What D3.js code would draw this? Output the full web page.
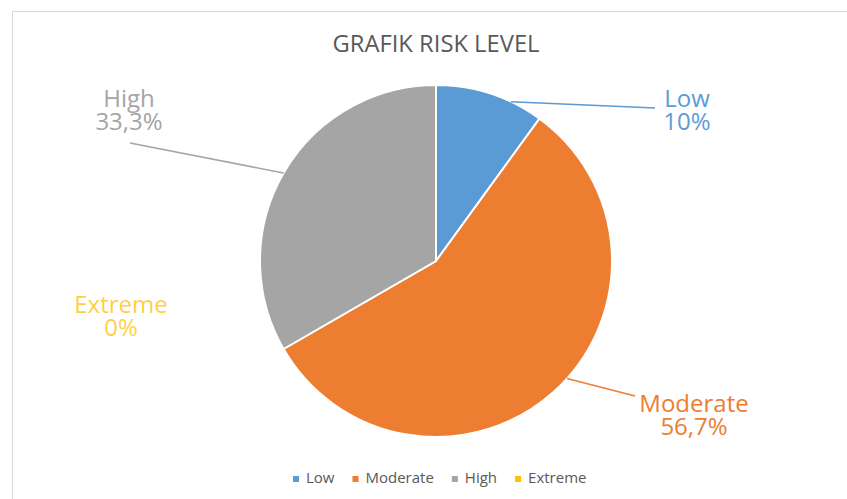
<!DOCTYPE html>
<html>
<head>
<meta charset="utf-8">
<script src="https://cdn.jsdelivr.net/npm/d3@7/dist/d3.min.js"></script>
<style>
	body { margin: 0; background: #fff; }
	text { font-family: "Open Sans", sans-serif; }
</style>
</head>
<body>
<div id="chart"></div>
<script>
var title = "GRAFIK RISK LEVEL";
var categories = ["Low", "Moderate", "High", "Extreme"];
var counts = [3, 17, 10, 0];
var colors = ["#5B9BD5", "#ED7D31", "#A5A5A5", "#FFC000"];

var width = 847, height = 499;
var cx = 436, cy = 261, radius = 176;

// best-fit label spots (relative to pie centre), like Excel placed them
var labelSpot = {
	"Low":      {x: 251,  y: -154, lineX: 219,  lineY: -153, at: 0.7},
	"Moderate": {x: 258,  y: 151,  lineX: 199,  lineY: 135,  at: 0.47},
	"High":     {x: -307, y: -154, lineX: -306, lineY: -118, at: 0.5},
	"Extreme":  {x: -315, y: 52}
};

var total = d3.sum(counts);
function pct(v) {
	var p = Math.round(v / total * 1000) / 10;
	return String(p).replace(".", ",") + "%";
}

var svg = d3.select("#chart").append("svg")
	.attr("width", width)
	.attr("height", height);

svg.append("rect")
	.attr("width", width).attr("height", height)
	.attr("fill", "#fff");

// chart area frame
svg.append("rect")
	.attr("x", 12.5).attr("y", 11.5)
	.attr("width", 900).attr("height", 600)
	.attr("fill", "none")
	.attr("stroke", "#d9d9d9");

svg.append("text")
	.attr("x", cx).attr("y", 52)
	.attr("text-anchor", "middle")
	.attr("font-size", 23)
	.attr("textLength", 207)
	.attr("lengthAdjust", "spacingAndGlyphs")
	.attr("fill", "#595959")
	.text(title);

var data = categories.map(function (c, i) {
	return {name: c, value: counts[i], color: colors[i]};
});

var pie = d3.pie().sort(null).value(function (d) { return d.value; });
var arcs = pie(data);

var arc = d3.arc().innerRadius(0).outerRadius(radius);

var g = svg.append("g")
	.attr("transform", "translate(" + cx + "," + cy + ")");

g.selectAll("path.slice")
	.data(arcs.filter(function (d) { return d.value > 0; }))
	.enter().append("path")
		.attr("class", "slice")
		.attr("d", arc)
		.attr("fill", function (d) { return d.data.color; })
		.attr("stroke", "#fff")
		.attr("stroke-width", 2);

// leader lines
function anchor(d) {
	var s = labelSpot[d.data.name];
	return d.startAngle + (d.endAngle - d.startAngle) * s.at;
}
g.selectAll("line.leader")
	.data(arcs.filter(function (d) { return d.value > 0; }))
	.enter().append("line")
		.attr("class", "leader")
		.attr("x1", function (d) { return Math.sin(anchor(d)) * radius; })
		.attr("y1", function (d) { return -Math.cos(anchor(d)) * radius; })
		.attr("x2", function (d) { return labelSpot[d.data.name].lineX; })
		.attr("y2", function (d) { return labelSpot[d.data.name].lineY; })
		.attr("stroke", function (d) { return d.data.color; })
		.attr("stroke-width", 1.5);

var labels = g.selectAll("text.label")
	.data(arcs)
	.enter().append("text")
		.attr("class", "label")
		.attr("text-anchor", "middle")
		.attr("font-size", 24)
		.attr("fill", function (d) { return d.data.color; })
		.attr("fill-opacity", function (d) { return d.value > 0 ? 1 : 0.75; })
		.attr("transform", function (d) {
			var s = labelSpot[d.data.name];
			return "translate(" + s.x + "," + s.y + ")";
		});
labels.append("tspan").attr("x", 0).attr("y", 0)
	.text(function (d) { return d.data.name; });
labels.append("tspan").attr("x", 0).attr("y", 23)
	.text(function (d) { return pct(d.value); });

// legend
var legend = svg.append("g").attr("class", "legend");
var items = legend.selectAll("g")
	.data(data)
	.enter().append("g");
items.append("rect")
	.attr("y", -7).attr("width", 6).attr("height", 6)
	.attr("fill", function (d) { return d.color; });
items.append("text")
	.attr("x", 13)
	.attr("font-size", 15)
	.attr("fill", "#595959")
	.text(function (d) { return d.name; });

var xpos = 0;
items.each(function () {
	var w = d3.select(this).select("text").node().getComputedTextLength();
	d3.select(this).attr("transform", "translate(" + xpos + ",0)");
	xpos += 13 + w + 18;
});
var legendW = xpos - 18;
legend.attr("transform", "translate(" + Math.round(440 - legendW / 2) + ",483)");
</script>
</body>
</html>
